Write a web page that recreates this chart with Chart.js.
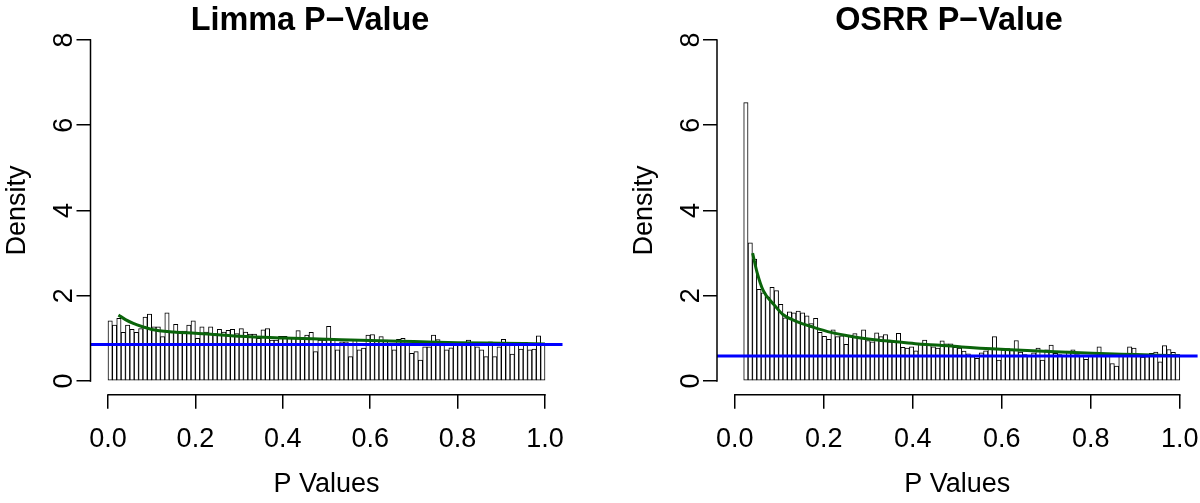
<!DOCTYPE html>
<html><head><meta charset="utf-8">
<script src="https://cdn.jsdelivr.net/npm/chart.js@4"></script>
<style>
html,body{margin:0;padding:0;background:#fff;}
#wrap{position:relative;width:1200px;height:503px;overflow:hidden;}
canvas{position:absolute;top:0;}
</style></head><body>
<div id="wrap">
<canvas id="c1" width="600" height="503" style="left:0"></canvas>
<canvas id="c2" width="600" height="503" style="left:600px"></canvas>
</div>
<script>
// ---- data ----
const limmaBinCenters = [0.005,0.015,0.025,0.035,0.045,0.055,0.065,0.075,0.085,0.095,
0.105,0.115,0.125,0.135,0.145,0.155,0.165,0.175,0.185,0.195,
0.205,0.215,0.225,0.235,0.245,0.255,0.265,0.275,0.285,0.295,
0.305,0.315,0.325,0.335,0.345,0.355,0.365,0.375,0.385,0.395,
0.405,0.415,0.425,0.435,0.445,0.455,0.465,0.475,0.485,0.495,
0.505,0.515,0.525,0.535,0.545,0.555,0.565,0.575,0.585,0.595,
0.605,0.615,0.625,0.635,0.645,0.655,0.665,0.675,0.685,0.695,
0.705,0.715,0.725,0.735,0.745,0.755,0.765,0.775,0.785,0.795,
0.805,0.815,0.825,0.835,0.845,0.855,0.865,0.875,0.885,0.895,
0.905,0.915,0.925,0.935,0.945,0.955,0.965,0.975,0.985,0.995];

const osrrBinCenters = [0.0249,0.0347,0.0445,0.0543,0.0641,0.0739,0.0837,0.0935,0.1033,0.1131,
0.1229,0.1327,0.1425,0.1523,0.1621,0.1719,0.1817,0.1915,0.2013,0.2111,
0.2209,0.2307,0.2405,0.2503,0.2601,0.2699,0.2797,0.2895,0.2993,0.3091,
0.3189,0.3287,0.3385,0.3483,0.3581,0.3679,0.3777,0.3875,0.3973,0.4071,
0.4169,0.4267,0.4365,0.4463,0.4561,0.4659,0.4757,0.4855,0.4953,0.5051,
0.5149,0.5247,0.5345,0.5443,0.5541,0.5639,0.5737,0.5835,0.5933,0.6031,
0.6129,0.6227,0.6325,0.6423,0.6521,0.6619,0.6717,0.6815,0.6913,0.7011,
0.7109,0.7207,0.7305,0.7403,0.7501,0.7599,0.7697,0.7795,0.7893,0.7991,
0.8089,0.8187,0.8285,0.8383,0.8481,0.8579,0.8677,0.8775,0.8873,0.8971,
0.9069,0.9167,0.9265,0.9363,0.9461,0.9559,0.9657,0.9755,0.9853,0.9951];

const limmaDensity = [1.41,1.31,1.47,1.14,1.31,1.21,1.14,1.23,1.50,1.57,
1.27,1.27,1.04,1.60,1.15,1.33,1.17,1.17,1.31,1.41,
1.00,1.27,1.15,1.27,1.11,1.21,1.15,1.19,1.21,1.11,
1.23,1.15,1.10,1.10,1.00,1.20,1.23,0.96,0.96,1.05,
1.05,1.02,1.02,1.18,1.00,1.08,1.14,0.69,0.96,0.96,
1.28,0.96,0.73,0.92,0.92,0.57,0.98,0.73,0.77,1.08,
1.09,0.94,1.04,0.96,0.88,0.73,0.98,1.00,0.86,0.65,
0.69,0.49,0.80,0.80,1.08,0.97,0.84,0.73,0.78,0.86,
0.91,0.90,0.96,0.90,0.80,0.73,0.57,0.92,0.57,0.80,
0.98,0.88,0.63,0.86,0.75,0.91,0.73,0.75,1.06,0.86];

const osrrDensity = [6.53,3.24,2.86,2.15,2.07,1.97,2.20,2.12,1.80,1.48,
1.62,1.60,1.64,1.60,1.53,1.35,1.47,1.14,1.05,0.98,
1.20,1.04,1.06,0.86,1.08,1.11,1.00,1.20,0.95,0.92,
1.13,1.04,1.09,0.92,0.92,1.12,0.79,0.77,0.80,0.71,
0.89,0.96,0.84,0.80,0.77,0.94,0.87,0.87,0.79,0.77,
0.70,0.64,0.57,0.53,0.66,0.71,0.77,1.04,0.49,0.73,
0.76,0.74,0.95,0.68,0.62,0.58,0.66,0.77,0.49,0.73,
0.84,0.65,0.62,0.60,0.70,0.73,0.62,0.58,0.51,0.60,
0.58,0.80,0.62,0.60,0.41,0.35,0.60,0.61,0.80,0.77,
0.60,0.56,0.57,0.65,0.68,0.45,0.83,0.74,0.67,0.62];

const limmaFitX = [0.024,0.04,0.058,0.08,0.1,0.15,0.2,0.3,0.4,0.5,0.6,0.7,0.8,0.9,1.0];
const limmaFitY = [1.55,1.44,1.35,1.27,1.21,1.15,1.12,1.05,1.01,0.98,0.95,0.925,0.90,0.885,0.87];
const osrrFitX = [0.040,0.050,0.064,0.089,0.108,0.138,0.177,0.216,0.265,0.314,0.363,0.412,0.461,0.510,0.608,0.706,0.804,0.902,1.0];
const osrrFitY = [3.0,2.55,2.12,1.78,1.56,1.40,1.26,1.14,1.04,0.97,0.92,0.87,0.84,0.80,0.74,0.69,0.65,0.62,0.59];

const limmaLevel = 0.855;
const osrrLevel = 0.585;

const xTickValues = [0, 0.2, 0.4, 0.6, 0.8, 1.0];
const yTickValues = [0, 2, 4, 6, 8];
const titles = ["Limma P\u2212Value", "OSRR P\u2212Value"];
const xLabel = "P Values";
const yLabel = "Density";

// ---- rendering ----
const FONT = '"Liberation Sans", Arial, Helvetica, sans-serif';
const W = 600, H = 503;
const PLOT_TOP = 26.36, PLOT_BOTTOM = 394.64;

function makeChart(canvasId, centers, dens, fitX, fitY, level, title, plotLeft, plotRight, titleX) {
  const decor = {
    id: 'decor',
    afterDraw(chart) {
      const ctx = chart.ctx, xs = chart.scales.x, ys = chart.scales.y;
      const ca = chart.chartArea;
      ctx.save();
      ctx.strokeStyle = '#000'; ctx.lineWidth = 1.5;
      const yb = ca.bottom;
      ctx.beginPath();
      ctx.moveTo(xs.getPixelForValue(xTickValues[0]) - 0.75, yb);
      ctx.lineTo(xs.getPixelForValue(xTickValues[xTickValues.length - 1]) + 0.75, yb);
      ctx.stroke();
      const xl = ca.left;
      ctx.beginPath();
      ctx.moveTo(xl, ys.getPixelForValue(yTickValues[0]) + 0.75);
      ctx.lineTo(xl, ys.getPixelForValue(yTickValues[yTickValues.length - 1]) - 0.75);
      ctx.stroke();
      ctx.fillStyle = '#000';
      ctx.font = '27px ' + FONT;
      ctx.textAlign = 'center'; ctx.textBaseline = 'alphabetic';
      xs.ticks.forEach(t => ctx.fillText(t.value.toFixed(1), xs.getPixelForValue(t.value), 447));
      ys.ticks.forEach(t => {
        ctx.save();
        ctx.translate(ca.left - 18.5, ys.getPixelForValue(t.value));
        ctx.rotate(-Math.PI / 2);
        ctx.fillText(String(t.value), 0, 0);
        ctx.restore();
      });
      const cx = (ca.left + ca.right) / 2, cy = (ca.top + ca.bottom) / 2;
      ctx.fillText(xLabel, cx, 492);
      ctx.save();
      ctx.translate(ca.left - 65.5, cy);
      ctx.rotate(-Math.PI / 2);
      ctx.fillText(yLabel, 0, 0);
      ctx.restore();
      ctx.font = 'bold 32.4px ' + FONT;
      ctx.fillText(title, titleX, 30);
      ctx.restore();
    }
  };
  return new Chart(document.getElementById(canvasId), {
    type: 'bar',
    data: {
      datasets: [
        {
          type: 'line', order: 1,
          data: [{x: -0.1, y: level}, {x: 1.1, y: level}],
          borderColor: '#0000ff', borderWidth: 3, pointRadius: 0, fill: false
        },
        {
          type: 'line', order: 2,
          data: fitX.map((x, i) => ({x, y: fitY[i]})),
          borderColor: '#0a640a', borderWidth: 3, pointRadius: 0, fill: false,
          cubicInterpolationMode: 'monotone'
        },
        {
          type: 'bar', order: 3,
          data: centers.map((x, i) => ({x, y: dens[i]})),
          backgroundColor: '#ffffff', borderColor: '#000000',
          borderWidth: 1, borderSkipped: false,
          barPercentage: 1, categoryPercentage: 1, grouped: false
        }
      ]
    },
    options: {
      responsive: false, animation: false, events: [],
      layout: { padding: { left: 0, top: PLOT_TOP, right: W - plotRight, bottom: 0 } },
      plugins: { legend: { display: false }, tooltip: { enabled: false }, title: { display: false } },
      scales: {
        x: {
          type: 'linear', min: -0.04, max: 1.04, offset: false,
          afterBuildTicks: s => { s.ticks = xTickValues.map(v => ({value: v})); },
          afterFit: s => { s.height = H - PLOT_BOTTOM; },
          grid: { offset: false, drawOnChartArea: false, drawTicks: true, tickLength: 14, color: '#000', lineWidth: 1.5 },
          border: { display: false },
          ticks: { display: false }
        },
        y: {
          type: 'linear', min: -0.32, max: 8.32,
          afterBuildTicks: s => { s.ticks = yTickValues.map(v => ({value: v})); },
          afterFit: s => { s.width = plotLeft; },
          grid: { drawOnChartArea: false, drawTicks: true, tickLength: 14, color: '#000', lineWidth: 1.5 },
          border: { display: false },
          ticks: { display: false }
        }
      }
    },
    plugins: [decor]
  });
}

makeChart('c1', limmaBinCenters, limmaDensity, limmaFitX, limmaFitY, limmaLevel, titles[0], 90.5, 562.5, 310);
makeChart('c2', osrrBinCenters, osrrDensity, osrrFitX, osrrFitY, osrrLevel, titles[1], 117, 597.6, 349);
</script>
</body></html>
